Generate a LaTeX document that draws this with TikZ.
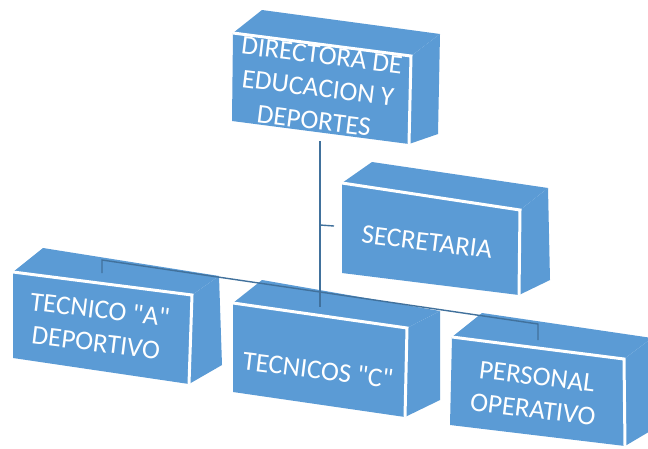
\documentclass[tikz,border=0pt]{standalone}
\usepackage{fontspec}
\setmainfont{Carlito}[Ligatures=TeXOff]
\usetikzlibrary{calc}
\definecolor{cubeblue}{HTML}{5B9BD5}
\definecolor{linkblue}{HTML}{41719C}
\tikzset{
  face/.style={fill=cubeblue},
  gapline/.style={draw=white, line width=3pt, line join=miter},
  link/.style={draw=linkblue, line width=1.4pt},
  label/.style={text=white, font=\fontsize{27}{33}\selectfont, align=center, rotate=-7, inner sep=0pt}
}
% #1 prefix, #2 TL, #3 TR, #4 BR, #5 BL, #6 back TL, #7 back TR, #8 back BR
\newcommand\cubebox[8]{%
  \coordinate (#1tl) at (#2);
  \coordinate (#1tr) at (#3);
  \coordinate (#1br) at (#4);
  \coordinate (#1bl) at (#5);
  \coordinate (#1btl) at (#6);
  \coordinate (#1btr) at (#7);
  \coordinate (#1bbr) at (#8);
  \fill[face] (#1tl) -- (#1tr) -- (#1br) -- (#1bl) -- cycle;
  \fill[face] (#1tl) -- (#1btl) -- (#1btr) -- (#1tr) -- cycle;
  \fill[face] (#1tr) -- (#1btr) -- (#1bbr) -- (#1br) -- cycle;
  \draw[gapline] (#1tl) -- (#1tr) -- (#1br);
}
\begin{document}
\begin{tikzpicture}[x=1pt,y=-1pt]
\useasboundingbox (0,0) rectangle (648,448);
\fill[white] (0,0) rectangle (648,448);
\clip (0,0) rectangle (648,448);

\cubebox{ta}{13,272}{192,295}{189,384}{13,358}{43,248}{219,276}{222,365}
\cubebox{tc}{233,303}{407,328}{405,417}{233,392}{262,280}{440,311}{440,400}
\cubebox{po}{452,337}{624,359}{625,446}{450,425}{482,313}{652,338}{652,430}
\cubebox{se}{342,183}{520,210}{519,295}{342,273}{372,162}{548,188}{550,280}
\cubebox{di}{233,33}{411,56}{409,144}{232,121}{262,10}{440,34}{438,134}

\node[label] (dirtext) at (318,88) {DIRECTORA DE\\EDUCACION Y\\DEPORTES};
\node[label] (sectext) at (427,242) {SECRETARIA};
\node[label] (tatext) at (98,326) {TECNICO "A"\\DEPORTIVO};
\node[label] (tctext) at (318,370) {TECNICOS "C"};
\node[label] (potext) at (535,393) {PERSONAL\\OPERATIVO};

\coordinate (dirB) at (320,141);
\coordinate (tcT) at (320,307);
\coordinate (secJ) at (320,225);
\coordinate (secL) at (334,226);
\coordinate (taJ) at (102,260);
\coordinate (taT) at (102,273);
\coordinate (poJ) at (538,324);
\coordinate (poT) at (538,340);

\draw[link] (dirB) -- (tcT);
\draw[link] (secJ) -- (secL);
\draw[link] (taT) -- (taJ) -- (poJ) -- (poT);
\end{tikzpicture}
\end{document}
